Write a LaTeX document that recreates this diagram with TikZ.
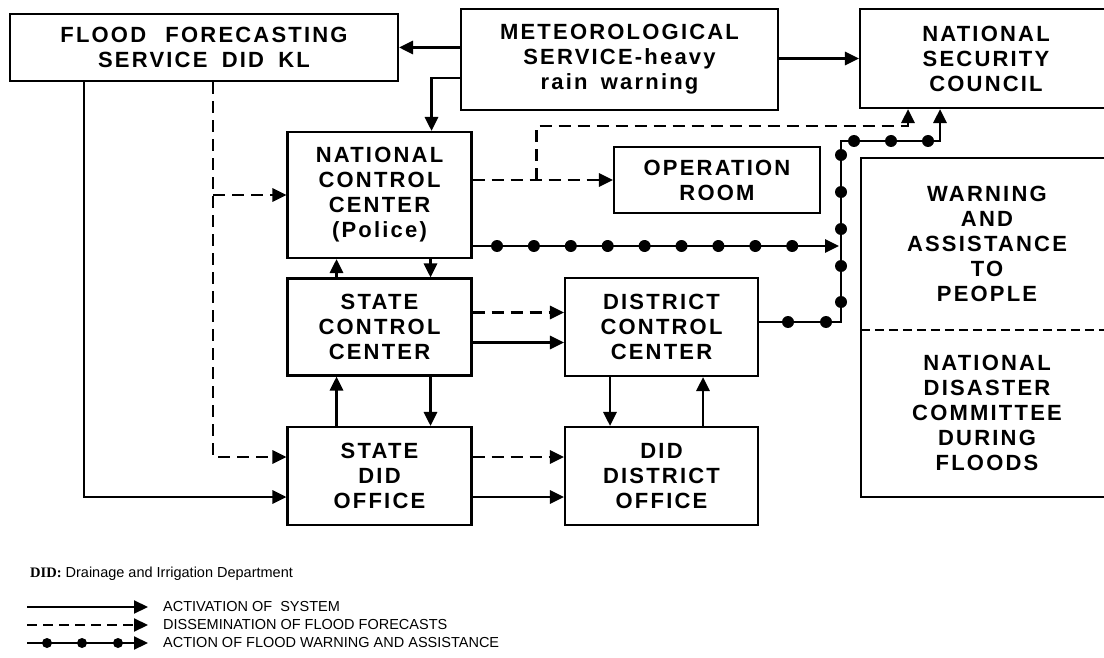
\documentclass[tikz,border=0pt]{standalone}
\usepackage{fontspec}
\setmainfont{Liberation Sans}
\newfontfamily\boxfont[LetterSpace=10]{Liberation Sans}
\newfontfamily\didfont{Liberation Serif}
\usetikzlibrary{arrows.meta}

\begin{document}
\begin{tikzpicture}[x=1pt, y=-1pt,
        >={Triangle[length=14pt, width=13pt]},
        box/.style={draw, line width=2.1pt, inner sep=0pt, align=center,
            font=\boxfont\bfseries\fontsize{22}{25}\selectfont},
        activation/.style={->, line width=2.8pt},
        dissemination/.style={->, line width=2.8pt, dash pattern=on 12pt off 7pt},
        action/.style={->, line width=2.8pt},
        legend/.style={anchor=west, inner sep=0pt, font=\fontsize{14.5}{17}\selectfont}]

            \useasboundingbox (0, 0) rectangle (1104, 658);

            % boxes
            \node[box, minimum width=388pt, minimum height=67pt] (ffs) at (204, 47.5)
                {FLOOD\hspace{11pt} FORECASTING\\SERVICE\hspace{6pt} DID\hspace{6pt} KL};
            \node[box, minimum width=317pt, minimum height=101pt] (met) at (619.5, 59.5)
                {METEOROLOGICAL\\SERVICE-heavy\\rain\hspace{5pt} warning};
            \node[box, minimum width=252pt, minimum height=99pt] (nsc) at (986, 58.5)
                {NATIONAL\\SECURITY\\COUNCIL};
            \node[box, minimum width=184pt, minimum height=126pt] (ncc) at (379.5, 195)
                {NATIONAL\\CONTROL\\CENTER\\(Police)};
            \node[box, minimum width=206pt, minimum height=66pt] (opr) at (717, 180)
                {OPERATION\\ROOM};
            \node[box, minimum width=184pt, minimum height=97pt] (scc) at (379.5, 327)
                {STATE\\CONTROL\\CENTER};
            \node[box, minimum width=184pt, minimum height=98pt] (sdo) at (379.5, 476)
                {STATE\\DID\\OFFICE};
            \node[box, minimum width=193pt, minimum height=98pt] (dcc) at (661.5, 327)
                {DISTRICT\\CONTROL\\CENTER};
            \node[box, minimum width=193pt, minimum height=98pt] (ddo) at (661.5, 476)
                {DID\\DISTRICT\\OFFICE};
            \node[box, draw=none, minimum width=250pt, minimum height=170pt] (wap) at (987, 244)
                {WARNING\\AND\\ASSISTANCE\\TO\\PEOPLE};
            \node[box, draw=none, minimum width=250pt, minimum height=167pt] (ndc) at (987, 412.5)
                {NATIONAL\\DISASTER\\COMMITTEE\\DURING\\FLOODS};
            \draw[line width=2.1pt] (wap.north west) rectangle (ndc.south east);
            \draw[line width=1.6pt, dash pattern=on 9pt off 5pt] (wap.south west) -- (wap.south east);

            % activation of system
            \draw[activation] (met.west |- ffs.east) -- (ffs.east);
            \draw[activation] (met.east |- nsc.west) -- (nsc.west);
            \coordinate (mn) at ([xshift=52pt]ncc.north);
            \draw[activation] ([yshift=-18.5pt]met.west) -| (mn);
            \coordinate (fs) at ([xshift=-120pt]ffs.south);
            \draw[activation] (fs) |- ([yshift=-21pt]sdo.west);

            \foreach \a/\b in {scc/ncc, sdo/scc} {
                \draw[activation] ([xshift=-43pt]\a.north) -- ([xshift=-43pt]\b.south);
                \draw[activation] ([xshift=51pt]\b.south) -- ([xshift=51pt]\a.north);
            }
            \draw[activation] ([yshift=-15.5pt]scc.east) -- ([yshift=-15.5pt]dcc.west);
            \draw[activation] ([yshift=-21pt]sdo.east) -- ([yshift=-21pt]ddo.west);
            \draw[activation] ([xshift=-51.5pt]dcc.south) -- ([xshift=-51.5pt]ddo.north);
            \draw[activation] ([xshift=41.5pt]ddo.north) -- ([xshift=41.5pt]dcc.south);

            % dissemination of flood forecasts
            \coordinate (fd) at ([xshift=9pt]ffs.south);
            \draw[dissemination] (fd) |- ([yshift=19pt]sdo.west);
            \draw[dissemination] (fd |- ncc.west) -- (ncc.west);
            \draw[dissemination] (ncc.east |- opr.west) -- (opr.west);
            \coordinate (ob) at ([xshift=64pt]ncc.east);
            \coordinate (on) at ([xshift=-78pt]nsc.south);
            \draw[dissemination] (ob |- opr.west) |- ([yshift=-17pt]on) -- (on);
            \draw[dissemination] ([yshift=14.5pt]scc.east) -- ([yshift=14.5pt]dcc.west);
            \draw[dissemination] ([yshift=19pt]sdo.east) -- ([yshift=19pt]ddo.west);

            % action of flood warning and assistance
            \coordinate (va) at (839, 246);
            \coordinate (vt) at (841, 141);
            \coordinate (ns) at ([xshift=-46pt]nsc.south);
            \draw[action] ([yshift=-51pt]ncc.east) -- (va);
            \draw[action] ([yshift=5pt]dcc.east) -| (vt) -| (ns);
            \foreach \i in {0, ..., 8} {
                \fill (497+36.9*\i, 246) circle (6pt);
            }
            \foreach \y in {155, 192, 229, 266, 302} {
                \fill (841, \y) circle (6pt);
            }
            \foreach \x in {854, 891, 928} {
                \fill (\x, 141) circle (6pt);
            }
            \foreach \x in {788, 826} {
                \fill (\x, 322) circle (6pt);
            }

            % legend
            \node[legend] (did) at (30, 574) {{\didfont\bfseries DID:} Drainage and Irrigation Department};
            \node[legend] (lact) at (163, 607) {ACTIVATION OF\ \ SYSTEM};
            \node[legend] (ldis) at (163, 625) {DISSEMINATION OF FLOOD FORECASTS};
            \node[legend] (lwar) at (163, 643) {ACTION OF FLOOD WARNING AND ASSISTANCE};
            \coordinate (k1) at (27, 607);
            \coordinate (k2) at (27, 625);
            \coordinate (k3) at (27, 643);
            \draw[activation, line width=2.2pt] (k1) -- ([xshift=-15pt]lact.west);
            \draw[dissemination, line width=2.2pt, dash pattern=on 10pt off 6pt] (k2) -- ([xshift=-15pt]ldis.west);
            \draw[action, line width=2.2pt] (k3) -- ([xshift=-15pt]lwar.west);
            \foreach \x in {47, 82, 118} {
                \fill (\x, 643) circle (5pt);
            }
        \end{tikzpicture}
\end{document}
